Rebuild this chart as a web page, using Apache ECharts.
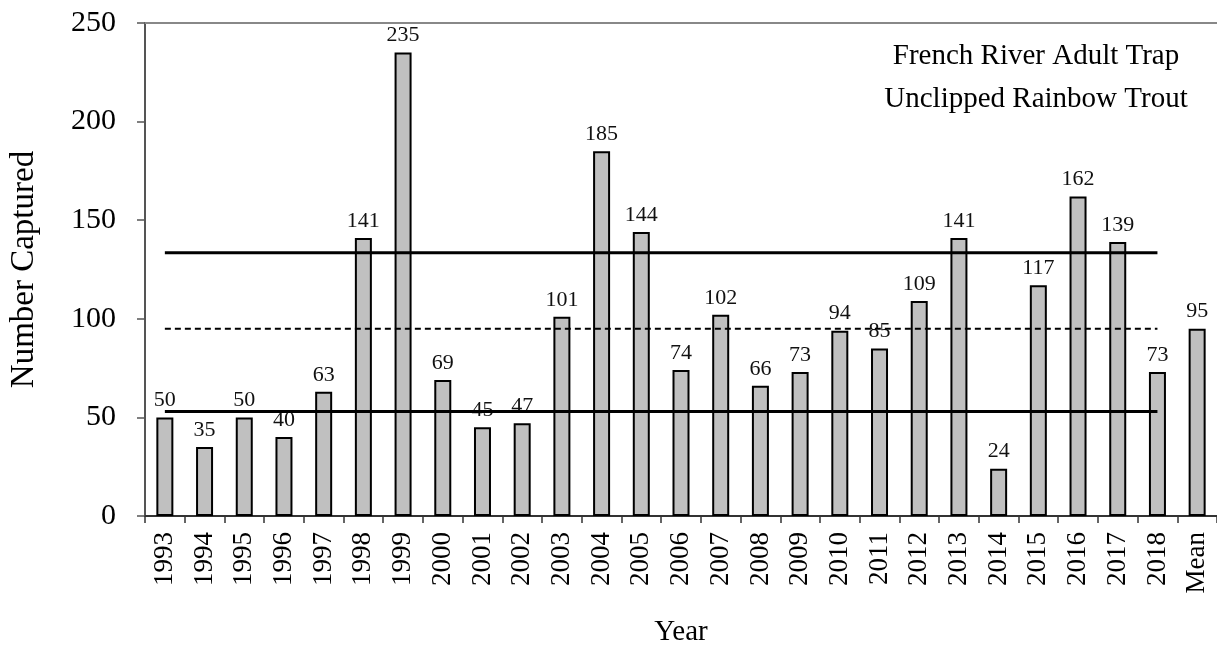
<!DOCTYPE html>
<html>
<head>
<meta charset="utf-8">
<script src="https://cdn.jsdelivr.net/npm/echarts@6/dist/echarts.min.js"></script>
<style>
html,body{margin:0;padding:0;background:#fff;}
#chart{width:1217px;height:652px;}
</style>
</head>
<body>
<div id="chart"></div>
<script>
const categories = ['1993','1994','1995','1996','1997','1998','1999','2000','2001','2002','2003','2004','2005','2006','2007','2008','2009','2010','2011','2012','2013','2014','2015','2016','2017','2018','Mean'];
const captured = [50,35,50,40,63,141,235,69,45,47,101,185,144,74,102,66,73,94,85,109,141,24,117,162,139,73,95];
const upperLevel = 133.5;
const meanLevel = 95;
const lowerLevel = 53;
const yTicks = [0,50,100,150,200,250];
const titleLines = ['French River Adult Trap','Unclipped Rainbow Trout'];

const FONT = '"Liberation Serif","Times New Roman",serif';
const yearCount = categories.length - 1;
function levelLine(v){ return categories.map((c,i)=> i < yearCount ? v : null); }

const chart = echarts.init(document.getElementById('chart'));
chart.setOption({
  animation:false,
  backgroundColor:'#fff',
  title:{
    text: titleLines.join('\n'),
    left: 1031, top: 30, textAlign:'center',
    textStyle:{fontFamily:FONT,fontSize:29,fontWeight:'normal',color:'#000',lineHeight:43,align:'center'}
  },
  grid:{left:130,right:-3,top:23,bottom:127,containLabel:false},
  xAxis:[{
    type:'category',data:categories,
    name:'Year',nameLocation:'middle',nameGap:102,
    nameTextStyle:{fontFamily:FONT,fontSize:29,color:'#000'},
    axisLine:{lineStyle:{color:'#333',width:2}},
    axisTick:{show:true,alignWithLabel:false,length:7,lineStyle:{color:'#333',width:1.5}},
    axisLabel:{rotate:90,interval:0,fontFamily:FONT,fontSize:27,color:'#000',margin:16}
  },{
    type:'category',data:categories,position:'top',
    axisLine:{show:true,lineStyle:{color:'#888',width:2}},
    axisTick:{show:false},axisLabel:{show:false}
  }],
  yAxis:{
    type:'value',min:yTicks[0],max:yTicks[yTicks.length-1],interval:50,
    name:'Number Captured',nameLocation:'middle',nameGap:104,
    nameTextStyle:{fontFamily:FONT,fontSize:33,color:'#000'},
    axisLine:{show:true,lineStyle:{color:'#555',width:2}},
    axisTick:{show:true,length:8,lineStyle:{color:'#555',width:1.5}},
    axisLabel:{fontFamily:FONT,fontSize:30,color:'#000',margin:29},
    splitLine:{show:false}
  },
  series:[
    {
      type:'bar',data:captured,barWidth:17,
      itemStyle:{color:'#c0c0c0',borderColor:'#000',borderWidth:2},
      label:{show:true,position:'top',distance:6,fontFamily:FONT,fontSize:22,color:'#111'},
      z:2
    },
    {type:'line',data:levelLine(upperLevel),symbol:'none',lineStyle:{color:'#000',width:3},z:3,silent:true},
    {type:'line',data:levelLine(meanLevel),symbol:'none',lineStyle:{color:'#000',width:2,type:[6,4]},z:3,silent:true},
    {type:'line',data:levelLine(lowerLevel),symbol:'none',lineStyle:{color:'#000',width:3},z:3,silent:true}
  ]
});
</script>
</body>
</html>
